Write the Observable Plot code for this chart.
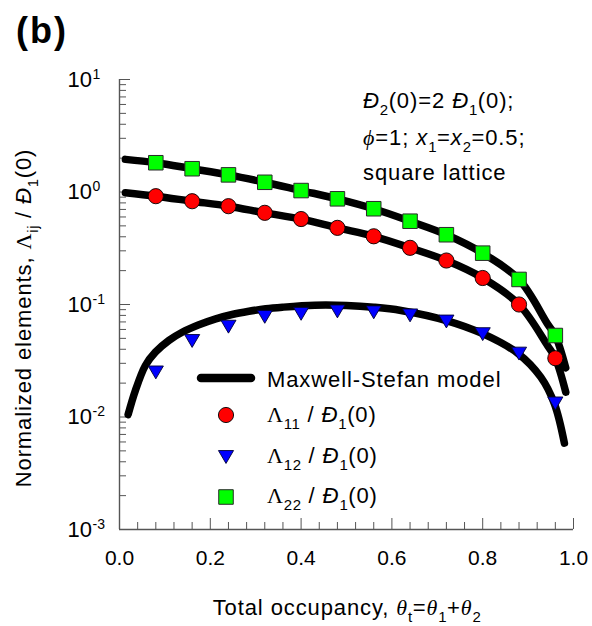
<!DOCTYPE html>
<html><head><meta charset="utf-8">
<script src="https://cdn.jsdelivr.net/npm/d3@7"></script>
<script src="https://cdn.jsdelivr.net/npm/@observablehq/plot@0.6"></script>
<style>body{margin:0;background:#fff}</style>
</head><body><div id="chart"></div>
<script>
// ---- data ----
const theta    = [0.08, 0.16, 0.24, 0.32, 0.40, 0.48, 0.56, 0.64, 0.72, 0.80, 0.88, 0.96];
const lambda11 = [0.918, 0.828, 0.748, 0.653, 0.575, 0.480, 0.404, 0.319, 0.246, 0.172, 0.100, 0.0333];
const lambda12 = [0.0249, 0.0474, 0.0635, 0.0777, 0.0826, 0.0868, 0.0852, 0.0800, 0.0706, 0.0545, 0.0366, 0.0132];
const lambda22 = [1.82, 1.61, 1.42, 1.22, 1.03, 0.87, 0.71, 0.55, 0.417, 0.286, 0.167, 0.053];

const msTheta11 = [0.013, 0.08, 0.16, 0.24, 0.32, 0.40, 0.48, 0.56, 0.64, 0.72, 0.80, 0.88, 0.943, 0.96, 0.983];
const ms11      = [0.984, 0.918, 0.828, 0.748, 0.653, 0.575, 0.480, 0.404, 0.319, 0.246, 0.172, 0.100, 0.043, 0.0333, 0.0166];
const msTheta22 = [0.013, 0.08, 0.16, 0.24, 0.32, 0.40, 0.48, 0.56, 0.64, 0.72, 0.80, 0.88, 0.943, 0.96, 0.983];
const ms22      = [1.95, 1.82, 1.61, 1.42, 1.22, 1.03, 0.87, 0.71, 0.55, 0.417, 0.286, 0.167, 0.067, 0.053, 0.0273];
const msTheta12 = [0.019, 0.035, 0.057, 0.079, 0.109, 0.138, 0.175, 0.212, 0.248, 0.285, 0.322, 0.359, 0.43, 0.50, 0.56, 0.62, 0.72, 0.80, 0.877, 0.928, 0.958, 0.98];
const ms12      = [0.0105, 0.0172, 0.0287, 0.0377, 0.048, 0.0567, 0.066, 0.0746, 0.0815, 0.087, 0.0916, 0.0946, 0.0985, 0.098, 0.0946, 0.0885, 0.072, 0.055, 0.0369, 0.0226, 0.0131, 0.00585];

const xTicks = [0, 0.2, 0.4, 0.6, 0.8, 1.0];
const xTickLabels = ["0.0", "0.2", "0.4", "0.6", "0.8", "1.0"];
const yTicks = [1e-3, 1e-2, 1e-1, 1e0, 1e1];
const yTickExp = ["-3", "-2", "-1", "0", "1"];

// minor tick positions
const xMinor = d3.range(1, 25).map(i => i * 0.04).filter(v => Math.abs(v / 0.2 - Math.round(v / 0.2)) > 1e-6);
const yMinor = [];
for (const dec of [1e-3, 1e-2, 1e-1, 1]) for (let m = 2; m <= 9; m++) yMinor.push(m * dec);

// ---- styling ----
const SANS = "'Liberation Sans', Arial, Helvetica, sans-serif";
const SERIF = "'Liberation Serif', 'Times New Roman', serif";
const AXIS = "#555";

const markers = theta.map((t, i) => ({t, l11: lambda11[i], l12: lambda12[i], l22: lambda22[i]}));
const toRows = (ts, vs) => ts.map((t, i) => ({t, v: vs[i]}));

const triDown = {
  draw(ctx, size) {
    const r = Math.sqrt(size / Math.PI);
    const w = 2.7 * r, h = 2.3 * r;
    ctx.moveTo(-w / 2, -h / 2);
    ctx.lineTo(w / 2, -h / 2);
    ctx.lineTo(0, h / 2);
    ctx.closePath();
  }
};

const lineStyle = {x: "t", y: "v", stroke: "black", strokeWidth: 7.5, strokeLinecap: "round", strokeLinejoin: "round", curve: "catmull-rom"};

const plot = Plot.plot({
  width: 592, height: 626,
  marginLeft: 119, marginRight: 19, marginTop: 79, marginBottom: 97,
  x: {domain: [0, 1], label: null},
  y: {type: "log", domain: [1e-3, 10], label: null},
  style: {fontFamily: SANS, fontSize: "21px", background: "white", color: "#000", overflow: "visible"},
  marks: [
    // inward ticks
    Plot.axisX({ticks: xMinor, tickSize: 7, dy: -7, tickFormat: () => "", stroke: AXIS, label: null}),
    Plot.axisX({ticks: xTicks, tickSize: 11, dy: -11, tickFormat: () => "", stroke: AXIS, label: null}),
    Plot.axisY({ticks: yMinor, tickSize: 7, dx: 7, tickFormat: () => "", stroke: AXIS, label: null}),
    Plot.axisY({ticks: yTicks, tickSize: 11, dx: 11, tickFormat: () => "", stroke: AXIS, label: null}),
    // x tick labels
    Plot.text(xTicks, {x: d => d, frameAnchor: "bottom", text: (d, i) => xTickLabels[i], lineAnchor: "top", dy: 21, fontSize: 21, letterSpacing: 0.5}),
    // y tick labels 10^n
    Plot.text(yTicks, {y: d => d, frameAnchor: "left", text: () => "10", textAnchor: "start", dx: -52, fontSize: 22, letterSpacing: 0.3}),
    Plot.text(yTicks, {y: d => d, frameAnchor: "left", text: (d, i) => yTickExp[i], textAnchor: "start", dx: -27, dy: -5, fontSize: 14}),
    // axis lines
    Plot.ruleX([0], {stroke: AXIS, strokeWidth: 1.4}),
    Plot.ruleY([1e-3], {stroke: AXIS, strokeWidth: 1.4}),
    // model curves
    Plot.line(toRows(msTheta22, ms22), lineStyle),
    Plot.line(toRows(msTheta11, ms11), lineStyle),
    Plot.line(toRows(msTheta12, ms12), lineStyle),
    // simulation markers
    Plot.dot(markers, {x: "t", y: "l22", symbol: "square", r: 8.2, fill: "#00ff00", stroke: "#2a2a2a", strokeWidth: 1}),
    Plot.dot(markers, {x: "t", y: "l11", symbol: "circle", r: 7.6, fill: "#ff0000", stroke: "#000", strokeWidth: 0.9}),
    Plot.dot(markers, {x: "t", y: "l12", symbol: triDown, r: 5.6, fill: "#0000ff", stroke: "#000033", strokeWidth: 0.9})
  ]
});

document.getElementById("chart").appendChild(plot);
const svgEl = plot.tagName.toLowerCase() === "svg" ? plot : plot.querySelector("svg");
const svg = d3.select(svgEl);

function rich(x, y, parts, o = {}) {
  const size = o.size || 22;
  const t = svg.append("text")
    .attr("x", x).attr("y", y)
    .attr("font-family", SANS).attr("font-size", size)
    .attr("letter-spacing", o.ls != null ? o.ls : 0.9)
    .attr("text-anchor", o.anchor || "start")
    .attr("fill", "#000");
  if (o.transform) t.attr("transform", o.transform);
  if (o.bold) t.attr("font-weight", "bold");
  let shift = 0;
  const subShift = Math.round(size * 0.3);
  for (const p of parts) {
    const s = t.append("tspan").text(p.t);
    const target = p.sub ? subShift : 0;
    if (target !== shift) s.attr("dy", target - shift);
    shift = target;
    if (p.sub) s.attr("font-size", Math.round(size * 0.66)).attr("letter-spacing", 0.5);
    if (p.it) s.attr("font-style", "italic");
    if (p.serif) s.attr("font-family", SERIF);
  }
  return t;
}

// panel tag
rich(16, 43, [{t: "(b)"}], {size: 36, bold: true, ls: 2});

// annotation
rich(363, 108, [{t: "Đ", it: true}, {t: "2", sub: true}, {t: "(0)=2 "}, {t: "Đ", it: true}, {t: "1", sub: true}, {t: "(0);"}]);
rich(363, 145, [{t: "ϕ", it: true, serif: true}, {t: "=1; "}, {t: "x", it: true}, {t: "1", sub: true}, {t: "="}, {t: "x", it: true}, {t: "2", sub: true}, {t: "=0.5;"}]);
rich(363, 180, [{t: "square lattice"}]);

// axis titles
rich(347, 615, [{t: "Total occupancy, "}, {t: "θ", it: true, serif: true}, {t: "t", sub: true}, {t: "="}, {t: "θ", it: true, serif: true}, {t: "1", sub: true}, {t: "+"}, {t: "θ", it: true, serif: true}, {t: "2", sub: true}], {anchor: "middle"});
rich(0, 0, [{t: "Normalized elements, "}, {t: "Λ", serif: true}, {t: "ij", sub: true}, {t: " / "}, {t: "Đ", it: true}, {t: "1", sub: true}, {t: "(0)"}], {anchor: "middle", transform: "translate(31,318) rotate(-90)"});

// legend
const lg = svg.append("g");
lg.append("line").attr("x1", 201).attr("x2", 251).attr("y1", 378).attr("y2", 378)
  .attr("stroke", "black").attr("stroke-width", 8.5).attr("stroke-linecap", "round");
rich(267, 387, [{t: "Maxwell-Stefan model"}]);

const sym = (type, size) => d3.symbol(type, size)();
lg.append("path").attr("d", sym(d3.symbolCircle, Math.PI * 7.6 * 7.6)).attr("transform", "translate(226,415)")
  .attr("fill", "#ff0000").attr("stroke", "#000").attr("stroke-width", 0.9);
rich(267, 422, [{t: "Λ", serif: true}, {t: "11", sub: true}, {t: " / "}, {t: "Đ", it: true}, {t: "1", sub: true}, {t: "(0)"}]);

lg.append("path").attr("d", sym(triDown, Math.PI * 5.6 * 5.6)).attr("transform", "translate(226,457)")
  .attr("fill", "#0000ff").attr("stroke", "#000033").attr("stroke-width", 0.9);
rich(267, 463, [{t: "Λ", serif: true}, {t: "12", sub: true}, {t: " / "}, {t: "Đ", it: true}, {t: "1", sub: true}, {t: "(0)"}]);

lg.append("path").attr("d", sym(d3.symbolSquare, Math.PI * 8.2 * 8.2)).attr("transform", "translate(226,497)")
  .attr("fill", "#00ff00").attr("stroke", "#2a2a2a").attr("stroke-width", 1);
rich(267, 503, [{t: "Λ", serif: true}, {t: "22", sub: true}, {t: " / "}, {t: "Đ", it: true}, {t: "1", sub: true}, {t: "(0)"}]);
</script>
</body></html>
